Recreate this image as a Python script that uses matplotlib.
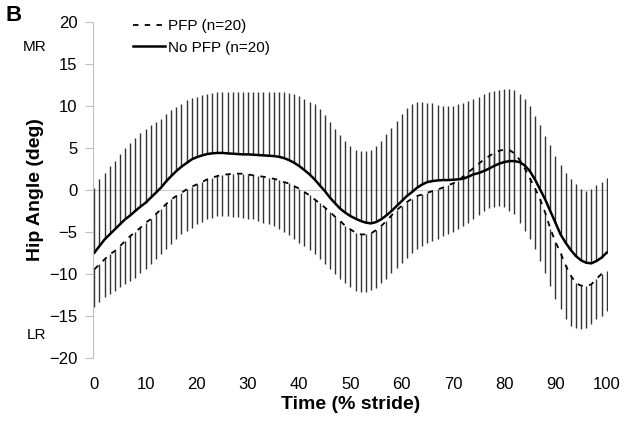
import matplotlib
matplotlib.use('Agg')
import matplotlib.pyplot as plt
import numpy as np

plt.rcParams['font.family'] = ['Liberation Sans', 'DejaVu Sans']

# % stride, one point per percent
stride = np.arange(0, 101)

# PFP group: mean and mean - SD
pfp_mean = [-9.46, -8.87, -8.27, -7.68, -7.28, -6.69, -6.1, -5.5, -5.02, -4.5,
            -3.9, -3.5, -2.9, -2.3, -1.7, -1.13, -0.73, -0.34, 0.06, 0.38,
            0.65, 0.93, 1.25, 1.45, 1.65, 1.8, 1.85, 1.93, 1.93, 1.93,
            1.85, 1.73, 1.65, 1.57, 1.45, 1.33, 1.17, 0.93, 0.77, 0.45,
            0.14, -0.26, -0.65, -1.13, -1.6, -2.1, -2.64, -3.2, -3.7, -4.3,
            -4.7, -5.1, -5.3, -5.3, -5.18, -4.78, -4.3, -3.7, -3.04, -2.4,
            -1.92, -1.45, -1.05, -0.73, -0.54, -0.34, -0.14, 0.06, 0.26, 0.54,
            0.77, 1.1, 1.6, 2.1, 2.6, 3.1, 3.6, 4.0, 4.4, 4.65,
            4.8, 4.75, 4.35, 3.6, 2.6, 1.4, 0.2, -1.1, -2.7, -4.6,
            -6.2, -7.5, -9.0, -10.2, -11.1, -11.4, -11.45, -11.25, -10.6, -10.0,
            -9.6]
pfp_low = [-14.0, -13.4, -12.8, -12.4, -12.0, -11.6, -11.2, -10.85, -10.45, -9.94,
           -9.46, -8.87, -8.27, -7.68, -7.08, -6.49, -5.9, -5.3, -4.9, -4.5,
           -4.1, -3.83, -3.5, -3.3, -3.15, -3.1, -3.12, -3.2, -3.2, -3.3,
           -3.43, -3.5, -3.7, -3.9, -4.1, -4.3, -4.7, -5.02, -5.42, -5.8,
           -6.3, -6.69, -7.16, -7.68, -8.27, -8.87, -9.46, -10.06, -10.57, -11.05,
           -11.6, -12.0, -12.16, -12.16, -11.93, -11.65, -11.13, -10.57, -9.94, -9.26,
           -8.67, -8.07, -7.56, -7.08, -6.69, -6.37, -6.1, -5.8, -5.5, -5.3,
           -5.02, -4.62, -4.3, -3.9, -3.5, -3.0, -2.5, -2.12, -2.0, -1.92,
           -2.0, -2.52, -2.92, -3.9, -4.9, -5.9, -7.08, -8.47, -9.86, -11.45,
           -13.04, -14.2, -15.4, -16.2, -16.5, -16.6, -16.4, -16.0, -15.4, -15.0,
           -14.4]

# No PFP group: mean and mean + SD
nopfp_mean = [-7.48, -6.69, -5.9, -5.3, -4.7, -4.1, -3.5, -3.04, -2.5, -2.0,
              -1.53, -0.93, -0.34, 0.26, 1.0, 1.65, 2.24, 2.76, 3.2, 3.63,
              3.9, 4.1, 4.27, 4.35, 4.4, 4.4, 4.35, 4.31, 4.27, 4.23,
              4.23, 4.19, 4.15, 4.11, 4.07, 4.03, 3.95, 3.79, 3.55, 3.23,
              2.84, 2.36, 1.85, 1.25, 0.54, -0.14, -0.93, -1.6, -2.24, -2.72,
              -3.12, -3.43, -3.7, -3.9, -3.99, -3.83, -3.5, -3.04, -2.52, -1.92,
              -1.33, -0.73, -0.26, 0.26, 0.65, 0.93, 1.05, 1.13, 1.17, 1.17,
              1.21, 1.25, 1.33, 1.57, 1.85, 2.0, 2.24, 2.52, 2.84, 3.12,
              3.31, 3.43, 3.43, 3.31, 2.92, 2.24, 1.25, 0.06, -1.13, -2.52,
              -3.9, -5.3, -6.3, -7.16, -7.88, -8.39, -8.67, -8.75, -8.47, -8.07,
              -7.48]
nopfp_high = [0.2, 1.25, 2.0, 2.8, 3.5, 4.3, 5.0, 5.6, 6.2, 6.8,
              7.2, 7.7, 8.1, 8.5, 9.0, 9.5, 9.9, 10.25, 10.7, 10.95,
              11.1, 11.35, 11.45, 11.55, 11.6, 11.6, 11.6, 11.62, 11.62, 11.62,
              11.62, 11.65, 11.65, 11.68, 11.7, 11.7, 11.7, 11.65, 11.55, 11.37,
              11.17, 10.85, 10.45, 10.18, 9.58, 8.87, 8.07, 7.28, 6.49, 5.81,
              5.2, 4.8, 4.6, 4.6, 4.8, 5.2, 5.8, 6.6, 7.4, 8.2,
              9.0, 9.8, 10.2, 10.45, 10.45, 10.4, 10.3, 10.1, 10.0, 10.0,
              10.05, 10.2, 10.4, 10.6, 10.8, 11.1, 11.4, 11.6, 11.8, 11.95,
              12.05, 12.0, 11.85, 11.4, 10.8, 10.0, 8.8, 7.7, 6.4, 5.3,
              4.0, 3.0, 2.0, 1.25, 0.65, 0.15, -0.15, 0.05, 0.55, 0.95,
              1.4]

fig = plt.figure(figsize=(6.27, 4.22), dpi=100)
ax = fig.add_axes([0.148, 0.152, 0.822, 0.796])

# SD bars
ax.vlines(stride, pfp_low, pfp_mean, color='0.2', lw=1.0)
ax.vlines(stride, nopfp_mean, nopfp_high, color='0.2', lw=1.0)

ax.axhline(0, color='0.8', lw=0.8, zorder=0)

ax.plot(stride, pfp_mean, color='black', lw=1.3, ls=(0, (3, 3.5)),
        label='PFP (n=20)')
ax.plot(stride, nopfp_mean, color='black', lw=1.8, label='No PFP (n=20)')

ax.set_xlim(-0.3, 100.3)
ax.set_ylim(-20, 20)
ax.set_yticks(np.arange(-20, 21, 5))
ax.set_xticks(np.arange(0, 101, 10))

for s in ['top', 'right', 'bottom']:
    ax.spines[s].set_visible(False)
ax.spines['left'].set_color('0.75')
ax.tick_params(axis='y', direction='out', length=6, color='0.75',
               labelsize=12, pad=5)
ax.tick_params(axis='x', length=0, labelsize=12, pad=14)

ax.set_xlabel('Time (% stride)', fontsize=14, fontweight='bold', labelpad=3)
ax.set_ylabel('Hip Angle (deg)', fontsize=14, fontweight='bold', labelpad=4)

fig.text(0.008, 0.963, 'B', fontsize=16, fontweight='bold', va='center')
fig.text(0.055, 0.888, 'MR', fontsize=11, ha='center', va='center')
fig.text(0.058, 0.205, 'LR', fontsize=11, ha='center', va='center')

ax.legend(loc='upper left', bbox_to_anchor=(0.052, 1.05), frameon=False,
          fontsize=11, handlelength=2.1, handletextpad=0.2, labelspacing=0.5)

fig.savefig('out.png', dpi=100)
